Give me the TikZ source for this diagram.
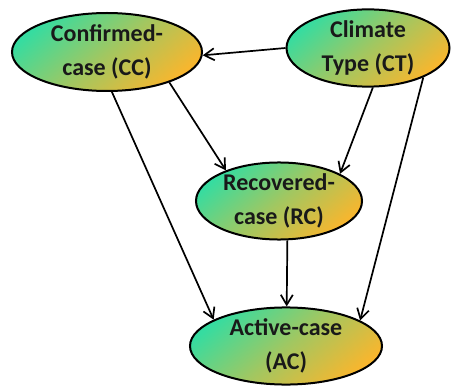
\documentclass[tikz,border=0pt]{standalone}
\usepackage{fontspec}
\setmainfont{Carlito}
\usetikzlibrary{shapes.geometric,arrows.meta}
\definecolor{gtop}{HTML}{36DCA0}
\definecolor{obot}{HTML}{F8B62E}
\tikzset{
  var/.style={ellipse, draw=black, line width=2pt, inner sep=0pt,
    shading=axis, top color=gtop, bottom color=obot, middle color=gtop!45!obot, shading angle=40,
    font=\bfseries\fontsize{24}{34}\selectfont, align=center, text=black!90},
  conn/.style={line width=1.7pt, -{Straight Barb[length=10pt,width=12pt,line width=1.7pt]}}
}
\begin{document}
\begin{tikzpicture}[x=1pt,y=-1pt]
\useasboundingbox (0,0) rectangle (452,387);
\node[var, minimum width=190pt, minimum height=78pt] (cc) at (107,52) {Confirmed-\\case (CC)};
\node[var, minimum width=163pt, minimum height=73pt] (ct) at (368,48) {Climate\\Type (CT)};
\node[var, minimum width=166pt, minimum height=72pt] (rc) at (279,201) {Recovered-\\case (RC)};
\node[var, minimum width=192pt, minimum height=77pt] (ac) at (286,346) {Active-case\\(AC)};
\draw[conn] (ct.west) -- (cc.-2);
\draw[conn] (cc.-26) -- (rc.150);
\draw[conn] (cc.-83) -- (ac.160);
\draw[conn] (ct.-83) -- (rc.24);
\draw[conn] (ct.-28) -- (ac.19);
\draw[conn] (rc.-78) -- (ac.89);
\end{tikzpicture}
\end{document}
